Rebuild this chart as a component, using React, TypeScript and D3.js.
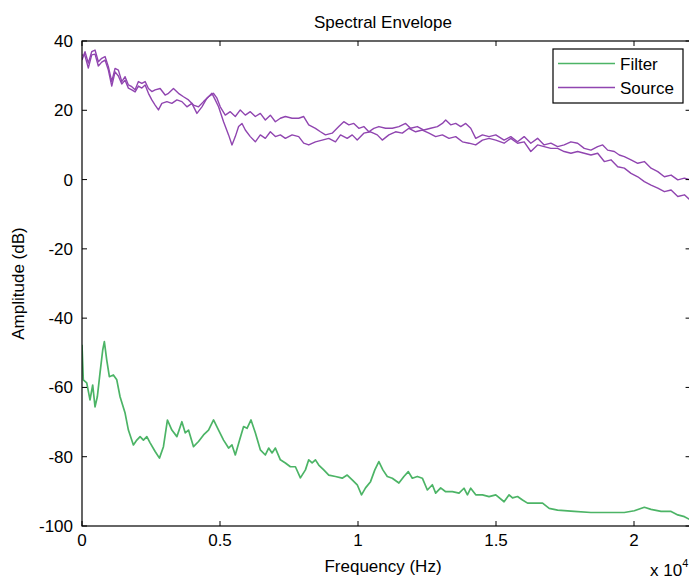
import React from "react";
import * as d3 from "d3";

const xTickValues = [0, 5000, 10000, 15000, 20000];
const xTickLabels = ["0", "0.5", "1", "1.5", "2"];
const yTickValues = [40, 20, 0, -20, -40, -60, -80, -100];
const yTickLabels = ["40", "20", "0", "-20", "-40", "-60", "-80", "-100"];

const filterFreq = [0, 47, 171, 290, 388, 472, 555, 653, 751, 810, 897, 991, 1136, 1260, 1379, 1561, 1681, 1862, 1986, 2105, 2225, 2349, 2468, 2650, 2806, 2951, 3096, 3256, 3438, 3619, 3739, 3859, 4040, 4222, 4403, 4585, 4766, 4948, 5129, 5311, 5434, 5554, 5710, 5855, 5979, 6124, 6280, 6461, 6643, 6763, 6886, 7006, 7187, 7369, 7550, 7732, 7913, 8095, 8215, 8338, 8458, 8578, 8759, 8941, 9184, 9427, 9609, 9790, 9972, 10128, 10273, 10454, 10610, 10756, 10901, 11061, 11242, 11482, 11663, 11823, 11968, 12150, 12331, 12513, 12694, 12814, 12995, 13177, 13420, 13660, 13841, 13965, 14084, 14266, 14509, 14749, 14992, 15293, 15475, 15598, 15780, 15961, 16143, 16687, 16927, 17232, 17834, 18440, 19046, 19649, 20012, 20375, 20618, 20981, 21344, 21587, 21827, 22034];
const filterDb = [-47.7, -57.8, -58.7, -63.6, -59.3, -65.6, -62.7, -55.8, -49.2, -46.8, -52.1, -56.9, -56.4, -57.8, -62.7, -67.4, -72.3, -76.6, -75.2, -74.2, -75.2, -74.2, -76.0, -78.5, -80.4, -77.1, -69.4, -72.3, -74.2, -69.9, -73.1, -72.3, -77.1, -75.6, -73.7, -72.3, -69.4, -72.3, -75.2, -77.5, -76.6, -79.5, -75.2, -71.3, -71.8, -69.4, -73.1, -78.0, -79.5, -77.5, -78.9, -77.5, -80.9, -81.8, -82.9, -82.9, -86.1, -83.8, -80.9, -81.8, -80.9, -82.4, -83.8, -85.3, -85.7, -86.2, -85.3, -86.7, -88.1, -91.0, -89.0, -87.2, -83.8, -81.4, -83.8, -85.7, -86.2, -87.6, -85.7, -84.3, -86.2, -85.7, -86.2, -89.6, -88.1, -90.5, -89.0, -90.1, -90.1, -90.5, -89.1, -91.0, -89.1, -91.0, -91.0, -91.5, -91.0, -93.0, -91.0, -91.9, -91.5, -92.5, -93.4, -93.4, -94.9, -95.4, -95.8, -96.1, -96.1, -96.1, -95.6, -94.6, -95.2, -95.8, -95.8, -96.8, -97.3, -98.2];

const sourceAFreq = [0, 109, 229, 352, 472, 592, 715, 835, 955, 1078, 1198, 1318, 1441, 1561, 1681, 1804, 1924, 2044, 2167, 2287, 2407, 2530, 2650, 2831, 3013, 3133, 3314, 3496, 3677, 3859, 4040, 4222, 4403, 4585, 4766, 4890, 5009, 5191, 5372, 5554, 5735, 5917, 6098, 6280, 6461, 6643, 6824, 7006, 7187, 7369, 7612, 7852, 8033, 8215, 8458, 8639, 8821, 9064, 9304, 9485, 9667, 9848, 10030, 10211, 10393, 10574, 10756, 10999, 11242, 11482, 11725, 11906, 12150, 12389, 12632, 12876, 13057, 13177, 13358, 13540, 13721, 13903, 14084, 14266, 14509, 14749, 14992, 15293, 15536, 15780, 16020, 16262, 16506, 16745, 16988, 17232, 17471, 17714, 17958, 18197, 18440, 18684, 18865, 19046, 19286, 19468, 19649, 19892, 20136, 20375, 20618, 20862, 21101, 21344, 21587, 21827, 22034];
const sourceADb = [34.5, 36.9, 33.6, 36.9, 37.4, 34.0, 35.0, 35.5, 32.6, 28.3, 32.1, 31.6, 28.3, 29.7, 27.3, 26.8, 25.9, 28.3, 27.8, 28.3, 26.3, 25.4, 25.9, 26.3, 24.4, 24.9, 26.3, 24.9, 23.9, 23.0, 21.5, 21.0, 22.5, 23.9, 24.9, 23.5, 21.0, 18.6, 19.6, 18.2, 20.1, 18.6, 19.6, 18.2, 19.1, 17.2, 18.6, 16.7, 17.7, 18.2, 17.7, 17.7, 18.2, 15.8, 14.8, 13.8, 12.9, 13.4, 15.3, 16.7, 15.8, 16.2, 14.8, 15.3, 13.8, 14.8, 15.3, 14.8, 14.8, 15.3, 16.2, 14.8, 15.3, 14.3, 14.8, 15.3, 16.2, 17.2, 15.8, 16.2, 15.3, 16.2, 14.8, 11.9, 12.9, 12.4, 12.9, 11.4, 12.4, 10.9, 12.4, 10.5, 11.9, 10.0, 10.5, 9.5, 10.0, 10.9, 10.5, 9.0, 8.5, 9.5, 10.0, 8.5, 8.1, 7.1, 6.6, 5.7, 4.7, 5.2, 3.3, 2.3, 0.8, 1.3, -0.1, 0.4, -0.1];

const sourceBFreq = [0, 109, 229, 352, 472, 592, 715, 835, 955, 1078, 1198, 1318, 1441, 1561, 1681, 1804, 1924, 2044, 2167, 2287, 2407, 2530, 2650, 2770, 2893, 3075, 3256, 3438, 3619, 3801, 3982, 4164, 4345, 4527, 4708, 4828, 4948, 5129, 5311, 5434, 5554, 5674, 5797, 5917, 6098, 6280, 6461, 6643, 6824, 7006, 7187, 7369, 7612, 7852, 8033, 8215, 8458, 8701, 8941, 9184, 9366, 9609, 9790, 9972, 10211, 10454, 10698, 10879, 11119, 11362, 11605, 11845, 12088, 12331, 12571, 12814, 13057, 13297, 13540, 13783, 14023, 14266, 14509, 14749, 14992, 15293, 15536, 15780, 16020, 16262, 16506, 16745, 16988, 17232, 17471, 17714, 17958, 18197, 18440, 18684, 18924, 19166, 19410, 19649, 19892, 20136, 20375, 20618, 20862, 21101, 21344, 21587, 21827, 22034];
const sourceBDb = [36.0, 35.7, 32.2, 36.0, 36.2, 32.8, 33.9, 34.5, 31.6, 27.0, 31.1, 29.9, 27.6, 28.7, 26.4, 25.9, 25.3, 27.0, 26.4, 27.3, 24.9, 23.0, 21.5, 20.1, 22.0, 22.5, 22.0, 23.0, 22.5, 21.0, 22.0, 19.1, 21.0, 23.5, 24.9, 23.0, 21.0, 16.7, 12.9, 10.0, 12.4, 15.3, 16.2, 14.3, 12.4, 10.9, 12.9, 11.9, 13.8, 12.4, 12.9, 11.9, 12.9, 12.4, 10.5, 10.0, 10.9, 11.4, 11.9, 10.9, 12.9, 11.9, 12.9, 11.4, 13.4, 13.8, 12.9, 11.4, 12.9, 13.8, 13.4, 14.8, 13.8, 14.3, 13.4, 12.4, 12.9, 11.9, 12.4, 10.9, 10.5, 10.0, 11.4, 11.9, 11.4, 10.5, 11.9, 10.5, 10.9, 8.1, 10.0, 9.5, 9.0, 9.0, 8.1, 7.6, 8.1, 7.6, 7.1, 7.6, 5.2, 5.7, 3.7, 3.3, 1.8, 0.8, -0.6, -1.6, -2.5, -3.5, -3.0, -4.9, -4.4, -5.9];

const legendNames = ["Filter", "Source"];
const GREEN = "#4cb466";
const PURPLE = "#9045b0";

export default function App() {
  const W = 689;
  const H = 579;
  const left = 82;
  const top = 41;
  const bottom = 526;
  const x = d3.scaleLinear().domain([0, 20000]).range([left, 634]);
  const right = x(22050);
  const y = d3.scaleLinear().domain([-100, 40]).range([bottom, top]);

  const line = d3
    .line<[number, number]>()
    .x((d) => x(d[0]))
    .y((d) => y(d[1]));

  const zip = (a: number[], b: number[]) => a.map((v, i) => [v, b[i]] as [number, number]);

  const font = "'Liberation Sans', Arial, Helvetica, sans-serif";
  const fs = 17;
  const tickLen = 5;

  return (
    <svg
      width={W}
      height={H}
      style={{ position: "absolute", left: 0, top: 0, background: "#fff" }}
      fontFamily={font}
    >
      <rect x={0} y={0} width={W} height={H} fill="#fff" />
      <defs>
        <clipPath id="plotclip">
          <rect x={left} y={top} width={right - left} height={bottom - top} />
        </clipPath>
      </defs>
      <g clipPath="url(#plotclip)" fill="none" strokeLinejoin="round">
        <path d={line(zip(sourceAFreq, sourceADb)) || ""} stroke={PURPLE} strokeWidth={1.4} />
        <path d={line(zip(sourceBFreq, sourceBDb)) || ""} stroke={PURPLE} strokeWidth={1.4} />
        <path d={line(zip(filterFreq, filterDb)) || ""} stroke={GREEN} strokeWidth={1.7} />
      </g>
      <rect x={left} y={top} width={right - left} height={bottom - top} fill="none" stroke="#000" strokeWidth={1.2} />
      {xTickValues.map((v, i) => (
        <g key={"xt" + i}>
          <line x1={x(v)} x2={x(v)} y1={bottom} y2={bottom - tickLen} stroke="#000" />
          <line x1={x(v)} x2={x(v)} y1={top} y2={top + tickLen} stroke="#000" />
          <text x={x(v)} y={546} textAnchor="middle" fontSize={fs} fill="#000">
            {xTickLabels[i]}
          </text>
        </g>
      ))}
      {yTickValues.map((v, i) => (
        <g key={"yt" + i}>
          <line x1={left} x2={left + tickLen} y1={y(v)} y2={y(v)} stroke="#000" />
          <line x1={right} x2={right - tickLen} y1={y(v)} y2={y(v)} stroke="#000" />
          <text x={73} y={y(v) + 6} textAnchor="end" fontSize={fs} fill="#000">
            {yTickLabels[i]}
          </text>
        </g>
      ))}
      <text x={383} y={28} textAnchor="middle" fontSize={fs} fill="#000">
        Spectral Envelope
      </text>
      <text x={383} y={572} textAnchor="middle" fontSize={fs} fill="#000">
        Frequency (Hz)
      </text>
      <text x={650} y={576} fontSize={fs} fill="#000">
        x 10
        <tspan dy={-9} fontSize={11}>4</tspan>
      </text>
      <text
        transform={`translate(24, ${(top + bottom) / 2}) rotate(-90)`}
        textAnchor="middle"
        fontSize={fs}
        fill="#000"
      >
        Amplitude (dB)
      </text>
      <g>
        <rect x={553} y={49} width={130} height={54} fill="#fff" stroke="#000" strokeWidth={1.2} />
        {legendNames.map((n, i) => (
          <g key={n}>
            <line
              x1={558}
              x2={615}
              y1={63.5 + i * 24}
              y2={63.5 + i * 24}
              stroke={i === 0 ? GREEN : PURPLE}
              strokeWidth={1.5}
            />
            <text x={620} y={70 + i * 24} fontSize={fs} fill="#000">
              {n}
            </text>
          </g>
        ))}
      </g>
    </svg>
  );
}
